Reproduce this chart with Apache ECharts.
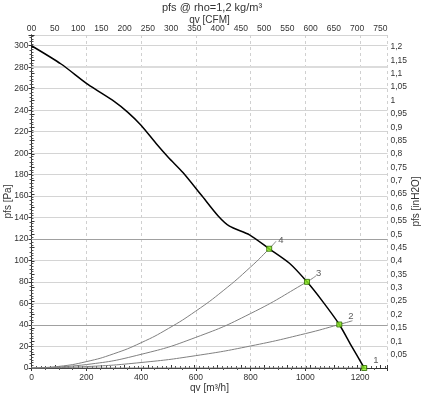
<!DOCTYPE html>
<html><head><meta charset="utf-8">
<script src="https://cdn.jsdelivr.net/npm/echarts@6/dist/echarts.min.js"></script>
<style>html,body{margin:0;padding:0;background:#fff}#c{width:424px;height:395px}</style>
</head><body><div id="c"></div>
<script>
var titleText = 'pfs @ rho=1,2 kg/m³';
var xNameBottom = 'qv [m³/h]';
var xNameTop = 'qv [CFM]';
var yNameLeft = 'pfs [Pa]';
var yNameRight = 'pfs [inH2O]';
var fanCurve = [[0,300],[108,283],[206,264],[303,248],[352,238],[400,226],[455,209],[500,196],[553,182],[620,161],[680,142],[723,132],[796,124],[868,111],[942,97.5],[1006,80.2],[1063,62],[1124,40.5],[1166,21.6],[1215,0]];
var sys4 = [[0,0],[100,1.5],[200,5.9],[300,13.2],[400,23.5],[500,36.8],[600,53],[700,72],[800,94],[868,111],[893,118]];
var sys3 = [[0,0],[200,3.2],[400,12.7],[600,28.5],[800,50.7],[1006,80.2],[1040,86]];
var sys2 = [[0,0],[200,1.3],[400,5.1],[600,11.5],[800,20.5],[1000,32],[1124,40.5],[1172,44]];
var sys1 = [[0,0],[1215,0]];
var opPoints = [[1215,0,'1'],[1124,40.5,'2'],[1006,80.2,'3'],[868,111,'4']];
var xMax = 1300, yMax = 310;
var PA_PER_INH2O = 249.089, M3H_PER_CFM = 1.699;

var font = 'Liberation Sans, Arial, sans-serif';
var txt = '#333';
var tfs = 8.5;
var chart = echarts.init(document.getElementById('c'));
function sysSeries(d){
  return {type:'line', data:d, xAxisIndex:0, yAxisIndex:0, symbol:'none', smooth:true,
    lineStyle:{color:'#808080', width:1}, z:3, silent:true};
}
chart.setOption({
  animation:false,
  title:{text:titleText, left:'center', top:-3, textStyle:{fontSize:11, fontWeight:'normal', color:txt, fontFamily:font}},
  grid:{left:31.5, right:36.5, top:35, bottom:27, containLabel:false, outerBoundsMode:'none'},
  xAxis:[
    {type:'value', position:'bottom', min:0, max:xMax, interval:200,
     name:xNameBottom, nameLocation:'middle', nameGap:15, nameMoveOverlap:false,
     nameTextStyle:{fontSize:10, color:txt, fontFamily:font},
     axisLine:{lineStyle:{color:'#333'}}, axisTick:{length:3, lineStyle:{color:'#333'}},
     minorTick:{show:true, splitNumber:4, length:2, lineStyle:{color:'#555'}},
     axisLabel:{fontSize:tfs, color:txt, fontFamily:font, margin:5, showMaxLabel:false,
       formatter:function(v){return v>1250?'':String(Math.round(v));}},
     splitLine:{show:true, lineStyle:{color:'#d0d0d0', type:[3,3]}}},
    {type:'value', position:'top', min:0, max:xMax/M3H_PER_CFM, interval:50,
     name:xNameTop, nameLocation:'middle', nameGap:10, nameMoveOverlap:false,
     nameTextStyle:{fontSize:10, color:txt, fontFamily:font},
     axisLine:{lineStyle:{color:'#333'}}, axisTick:{length:3, lineStyle:{color:'#333'}},
     minorTick:{show:true, splitNumber:5, length:2, lineStyle:{color:'#555'}},
     axisLabel:{fontSize:tfs, color:txt, fontFamily:font, margin:2, showMaxLabel:false,
       formatter:function(v){return v===0?'00':(v>755?'':String(Math.round(v)));}},
     splitLine:{show:false}}
  ],
  yAxis:[
    {type:'value', position:'left', min:0, max:yMax, interval:20,
     name:yNameLeft, nameLocation:'middle', nameGap:18, nameRotate:90, nameMoveOverlap:false,
     nameTextStyle:{fontSize:10, color:txt, fontFamily:font},
     axisLine:{show:true, lineStyle:{color:'#333'}}, axisTick:{length:3, lineStyle:{color:'#333'}},
     minorTick:{show:true, splitNumber:5, length:2, lineStyle:{color:'#555'}},
     axisLabel:{fontSize:tfs, color:txt, fontFamily:font, margin:3, showMaxLabel:false,
       formatter:function(v){return v>305?'':String(Math.round(v));}},
     splitLine:{show:true, lineStyle:{color:'#d4d4d4'}}},
    {type:'value', position:'right', min:0, max:yMax/PA_PER_INH2O, interval:0.05,
     name:yNameRight, nameLocation:'middle', nameGap:24, nameRotate:90, nameMoveOverlap:false,
     nameTextStyle:{fontSize:10, color:txt, fontFamily:font},
     axisLine:{show:true, lineStyle:{color:'#333'}}, axisTick:{length:3, lineStyle:{color:'#333'}},
     minorTick:{show:true, splitNumber:5, length:2, lineStyle:{color:'#555'}},
     axisLabel:{fontSize:tfs, color:txt, fontFamily:font, margin:3, showMaxLabel:false,
       formatter:function(v){ if(v<1e-9 || v>1.22) return ''; return String(+v.toFixed(2)).replace('.',','); }},
     splitLine:{show:false}}
  ],
  series:[
    {type:'line', data:[], xAxisIndex:0, yAxisIndex:0, z:1, silent:true,
     markLine:{silent:true, symbol:'none', label:{show:false}, animation:false, z:1,
       data:[
         {yAxis:120, lineStyle:{color:'#a0a0a0', width:1, type:'solid'}},
         {yAxis:40, lineStyle:{color:'#a0a0a0', width:1, type:'solid'}},
         {yAxis:280, lineStyle:{color:'#dcdcdc', width:2, type:'solid'}}
       ]}},
    sysSeries(sys1), sysSeries(sys2), sysSeries(sys3), sysSeries(sys4),
    {type:'line', data:fanCurve, xAxisIndex:0, yAxisIndex:0, symbol:'none', smooth:0.25,
     lineStyle:{color:'#000', width:1.5}, z:4},
    {type:'scatter', data:opPoints, xAxisIndex:0, yAxisIndex:0, symbol:'rect', symbolSize:5,
     itemStyle:{color:'#8cf01e', borderColor:'#2d6a00', borderWidth:1}, z:5,
     label:{show:true, position:'right', offset:[1,-8], fontSize:9.5, color:txt, fontFamily:font,
       formatter:function(p){return p.data[2];}}}
  ]
});
</script></body></html>
